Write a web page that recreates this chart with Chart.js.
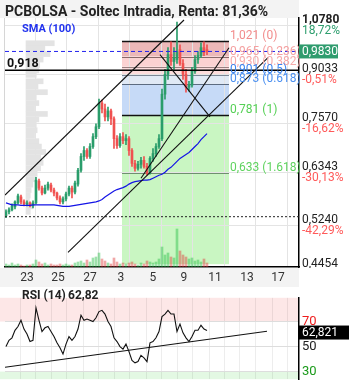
<!DOCTYPE html>
<html>
<head>
<meta charset="utf-8">
<script src="https://cdn.jsdelivr.net/npm/chart.js@4.4.1/dist/chart.umd.min.js"></script>
<style>
  html, body { margin: 0; padding: 0; background: #fff; }
  #wrap { position: relative; width: 353px; height: 390px; overflow: hidden; }
  #main { position: absolute; left: 0; top: 0; }
  #rsi { position: absolute; left: 0; top: 287px; }
</style>
</head>
<body>
<div id="wrap">
  <canvas id="main" width="353" height="287"></canvas>
  <canvas id="rsi" width="353" height="103"></canvas>
</div>
<script>
// intraday candles (one per slot, x = slot index)
const open = [.5419,.5497,.5536,.5596,.5677,.5801,.5698,.5657,.5677,.5616,
  .5677,.6143,.599,.5884,.599,.6055,.5947,.5884,.578,.5698,
  .5759,.5863,.599,.5905,.6077,.639,.6718,.6864,.6718,.6964,
  .7218,.7481,.8153,.798,.7754,.7923,.7699,.7166,.6989,.7218,
  .7115,.7166,.6864,.6552,.6436,.6529,.6623,.6482,.6321,.667,
  .679,.6964,.7166,.842,.9046,.9719,.9479,.9546,.9894,.9411,
  .9046,.8635,.8699,.9144,.9546,.9684,.9965,.9894];
const high = [.5536,.5576,.5657,.5718,.5863,.5842,.5739,.5718,.5698,.5718,
  .6231,.6187,.6033,.6055,.6121,.6099,.599,.5905,.5822,.5801,
  .5905,.6033,.6033,.6143,.6436,.679,.6964,.6914,.7039,.7296,
  .7562,.8271,.8242,.8124,.8037,.798,.7754,.7244,.7296,.7322,
  .727,.7218,.6914,.6623,.6599,.6694,.6718,.6552,.6718,.6914,
  .7039,.727,.8573,.921,.9965,1.0182,.9965,1.0938,1.0073,.9546,
  .921,.8823,.9276,.9684,.9825,1.0146,1.0182,1.0073];
const low = [.538,.5457,.5516,.5556,.5657,.5657,.5616,.5616,.5596,.5576,
  .5657,.5947,.5842,.5863,.5947,.5905,.5822,.5739,.5657,.5657,
  .5718,.5822,.578,.5863,.6033,.6344,.6623,.667,.667,.6914,
  .7166,.7428,.7866,.7644,.7644,.7535,.6914,.6914,.6939,.7039,
  .7014,.6742,.6482,.6367,.639,.6436,.6436,.6276,.6298,.6599,
  .6718,.6914,.7115,.8271,.8886,.9343,.921,.9411,.9343,.8886,
  .848,.8511,.8635,.9079,.9411,.9615,.9684,.9719];
const close = [.5497,.5536,.5616,.5698,.5822,.5698,.5657,.5677,.5616,.5677,
  .6165,.599,.5884,.599,.6077,.5947,.5884,.578,.5698,.5759,
  .5863,.599,.5905,.6099,.639,.6718,.6864,.6718,.6964,.7218,
  .7481,.8153,.798,.7754,.7923,.7699,.7166,.6989,.7218,.7115,
  .7166,.6864,.6552,.6436,.6529,.6623,.6482,.6321,.667,.679,
  .6964,.7166,.842,.9046,.9719,.9479,.9615,.9825,.9411,.9046,
  .8635,.8699,.9144,.9546,.9684,.9965,.979,.983];
const volume = [3,2,4,2,3,2,1,2,2,3, 7,5,3,4,2,3,2,2,3,2,
  3,2,2,4,5,6,4,7,5,9, 10,14,8,6,4,3,9,5,3,4,
  3,4,5,3,2,4,3,6,5,4, 5,8,20,12,14,10,9,38,16,12,
  10,8,9,6,7,5,8,4];
const sma100 = [.5677,.5657,.5636,.5636,.5636,.5626,.5626,.5626,.5626,.5636,
  .5636,.5636,.5636,.5636,.5636,.5636,.5636,.5626,.5616,.5606,
  .5606,.5606,.5616,.5626,.5636,.5647,.5657,.5667,.5677,.5688,
  .5698,.5718,.5749,.5801,.5842,.5884,.5926,.5958,.5979,.6001,
  .6033,.6077,.611,.6132,.6143,.6154,.6165,.6165,.6176,.6209,
  .6242,.6276,.6298,.6344,.6413,.6459,.6529,.6599,.667,.6718,
  .6766,.6815,.6889,.6964,.7039,.7141,.7218,.7296];
const rsi14 = [50,55,57,63,66,71,64,60,54,55, 81,71,62,65,66,62,58,53,49,44,
  52,58,55,58,64,75,71,72,71,70, 73,78,79,76,70,66,57,54,50,48,
  52,46,39,37,38,43,41,38,53,54, 57,62,74,76,79,76,76,62,68,61,
  57,54,58,63,63,67,64,62.821];

// volume profile (price row, relative size)
const profPrice = [1.0219,1.0019,.9825,.9632,.9444,.9259,.9111,.8902,.873,.8557,
  .839,.8226,.8066,.7908,.7754,.7602,.7455,.7309,.7166,.7026,
  .6889,.6754,.6623,.6493,.6367,.6242,.6121,.6001,.5884,.577,.5657,.5546];
const profSize = [33,22,28,20,16,15,12,20,14,25, 12,15,10,25,15,12,13,10,15,18,
  23,17,20,17,13,10,8,6,5,4,8,5];

// x axis
const xMin = -0.33, xMax = 97.67;
const dayTicks = [10, 20.33, 31, 41.33, 52, 62.33, 72.67, 83.33, 93.67];
const dayLabels = ['23', '25', '27', '3', '5', '9', '11', '13', '17'];
const halfDayTicks = [4.67, 10, 15.17, 20.33, 25.67, 31, 36.33, 41.33, 46.67, 52,
  57.33, 62.33, 67.67, 72.67, 78, 83.33, 88.67, 93.67];

// price axis
const yMin = 0.4546, yMax = 1.1097;
const priceTicks = [1.078, 0.9033, 0.757, 0.6343, 0.524, 0.4454];
const priceTickPct = ['18,72%', '-0,51%', '-16,62%', '-30,13%', '-42,29%', '-50,95%'];

// fibonacci retracement
const fibLevels = [1.021, 0.965, 0.930, 0.901, 0.873, 0.781, 0.633];
const fibRatios = ['0', '0.236', '0.382', '0.5', '0.618', '1', '1.618'];
const fibFrom = 38.67, fibTo = 74.33;

// drawn lines
const trendA = [{x: -0.33, y: .5842}, {x: 59.33, y: 1.1017}];
const trendB = [{x: 20.67, y: .4746}, {x: 87.33, y: .9615}];
const trendC = [{x: 45, y: .6209}, {x: 74.33, y: .9965}];
const trendFall = [{x: 51.33, y: .9719}, {x: 68, y: .7754}];
const lvl918 = 0.918, lastPrice = 0.983, dotLevel = 0.540;

const rsiTicks = [30, 50, 70];
const rsiTrend = [{x: -0.33, y: 33.4}, {x: 87, y: 62.2}];

const upColor = '#2a9d6b', downColor = '#f0504f';
Chart.defaults.font.family = 'Roboto, "Open Sans", sans-serif';

const fmt = (v, d) => v.toFixed(d).replace('.', ',');
const idx = close.map((_, i) => i);
const hline = v => [{x: xMin, y: v}, {x: xMax, y: v}];
const blackLine = d => ({type: 'line', data: d, borderColor: '#111', borderWidth: 1.1, pointRadius: 0, order: 1});

const fibZone = ['#ecb8b8', '#fbd2d2', '#fcdcdc', '#e0e9f5', '#c6daf7', '#c9f6c2'];
const fibLine = ['#111', '#8a6a6a', '#9a8080', '#7d8796', '#5c6b80', '#111', '#6f8f6f'];
const fibText = ['#f28c8c', '#f5a0a0', '#f6aaaa', '#3a84f0', '#4a8ff0', '#55d055', '#5fd35f'];

const mainDecor = {
  id: 'mainDecor',
  beforeDraw(chart) {
    const {ctx, chartArea: a, scales: {x, y}} = chart;
    ctx.save();
    ctx.fillStyle = '#f3f3f3';
    ctx.fillRect(0, 0, a.right, a.top);
    ctx.fillRect(0, a.bottom + 1, a.right, chart.height - a.bottom - 1);
    const x0 = x.getPixelForValue(fibFrom), x1 = x.getPixelForValue(fibTo);
    const edges = fibLevels.slice(0, 6).concat([yMin]);
    for (let i = 0; i < fibZone.length; i++) {
      const t = y.getPixelForValue(edges[i]), b = y.getPixelForValue(edges[i + 1]);
      ctx.fillStyle = fibZone[i];
      ctx.fillRect(x0, t, x1 - x0, b - t);
    }
    ctx.strokeStyle = '#d6d6d6';
    ctx.beginPath(); ctx.moveTo(a.left - 0.5, a.top); ctx.lineTo(a.left - 0.5, a.bottom); ctx.stroke();
    ctx.restore();
  },
  beforeDatasetsDraw(chart) {
    const {ctx, scales: {x, y}} = chart;
    const x0 = x.getPixelForValue(fibFrom), x1 = x.getPixelForValue(fibTo);
    ctx.save();
    fibLevels.forEach((v, i) => {
      const py = Math.round(y.getPixelForValue(v)) + 0.5;
      ctx.strokeStyle = fibLine[i];
      ctx.lineWidth = (i === 0 || i === 5) ? 1.3 : 1;
      ctx.beginPath(); ctx.moveTo(x0, py); ctx.lineTo(x1, py); ctx.stroke();
    });
    ctx.restore();
  },
  afterDraw(chart) {
    const {ctx, chartArea: a, scales: {x, y}} = chart;
    ctx.save();
    // fib labels
    ctx.font = '12px Roboto';
    ctx.textAlign = 'left';
    ctx.textBaseline = 'alphabetic';
    const lx = x.getPixelForValue(fibTo) + 1;
    fibLevels.forEach((v, i) => {
      ctx.fillStyle = fibText[i];
      ctx.fillText(fmt(v, 3) + ' (' + fibRatios[i] + ')', lx, y.getPixelForValue(v) - 2);
    });
    // price axis labels
    ctx.save();
    ctx.beginPath(); ctx.rect(a.right, 0, chart.width - a.right, a.bottom + 1); ctx.clip();
    ctx.textBaseline = 'middle';
    priceTicks.forEach((v, i) => {
      const py = y.getPixelForValue(v);
      ctx.fillStyle = '#222';
      ctx.font = i === 0 ? 'bold 12px Roboto' : '12px Roboto';
      ctx.fillText(fmt(v, 4), a.right + 3, py - 5.5);
      ctx.font = '12px Roboto';
      ctx.fillStyle = priceTickPct[i].startsWith('-') ? '#ff5a5a' : '#2e9e6e';
      ctx.fillText(priceTickPct[i], a.right + 3, py + 5.5);
    });
    ctx.restore();
    // last price box
    const lp = y.getPixelForValue(lastPrice);
    ctx.fillStyle = '#2f9c6e';
    ctx.fillRect(a.right, lp - 7, 39, 14);
    ctx.fillStyle = '#fff';
    ctx.font = '12px Roboto';
    ctx.textBaseline = 'middle';
    ctx.fillText(fmt(lastPrice, 4), a.right + 3, lp + 0.5);
    // title and labels
    ctx.fillStyle = '#222';
    ctx.font = 'bold 14px Roboto';
    ctx.textBaseline = 'alphabetic';
    ctx.fillText('PCBOLSA - Soltec Intradia, Renta: 81,36%', 5, 16);
    ctx.fillStyle = '#2233ee';
    ctx.font = 'bold 11px Roboto';
    ctx.fillText('SMA (100)', 22, 31.5);
    ctx.fillStyle = '#111';
    ctx.font = 'bold 12.5px Roboto';
    ctx.fillText(fmt(lvl918, 3), 7, y.getPixelForValue(lvl918) - 3);
    ctx.restore();
  }
};

new Chart(document.getElementById('main'), {
  type: 'bar',
  data: {
    datasets: [
      blackLine(trendA),
      blackLine(trendB),
      blackLine(trendC),
      blackLine(trendFall),
      {type: 'line', data: hline(lvl918), borderColor: '#000', borderWidth: 1.4, pointRadius: 0, order: 2},
      {type: 'line', data: hline(lastPrice), borderColor: '#2020ee', borderWidth: 1, borderDash: [4, 3], pointRadius: 0, order: 2},
      {type: 'line', data: hline(dotLevel), borderColor: '#222', borderWidth: 1, borderDash: [2, 2], pointRadius: 0, order: 2},
      {type: 'line', data: idx.map(i => ({x: i, y: sma100[i]})), borderColor: '#1414e6', borderWidth: 1.2, pointRadius: 0, tension: 0, order: 3},
      {type: 'bar', data: idx.map(i => ({x: i, y: [open[i], close[i]]})),
        backgroundColor: idx.map(i => close[i] >= open[i] ? upColor : downColor),
        grouped: false, maxBarThickness: 2, barPercentage: 1, categoryPercentage: 1, order: 4},
      {type: 'bar', data: idx.map(i => ({x: i, y: [low[i], high[i]]})),
        backgroundColor: idx.map(i => close[i] >= open[i] ? upColor : downColor),
        grouped: false, maxBarThickness: 1, barPercentage: 1, categoryPercentage: 1, order: 5},
      {type: 'bar', yAxisID: 'yv', data: idx.map(i => ({x: i, y: volume[i]})),
        backgroundColor: idx.map(i => close[i] >= open[i] ? 'rgba(40,190,70,0.45)' : 'rgba(225,60,60,0.45)'),
        grouped: false, maxBarThickness: 2, barPercentage: 1, categoryPercentage: 1, order: 6},
      {type: 'bar', indexAxis: 'y', xAxisID: 'xp', yAxisID: 'y',
        data: profPrice.map((p, i) => ({x: profSize[i], y: p})),
        backgroundColor: '#e3e3e3', barThickness: 5, order: 7}
    ]
  },
  options: {
    responsive: false, animation: false, events: [],
    layout: {padding: {left: 5, top: 18, right: 0, bottom: 0}},
    plugins: {legend: {display: false}, tooltip: {enabled: false}},
    scales: {
      x: {
        type: 'linear', min: xMin, max: xMax, offset: false,
        afterBuildTicks: s => { s.ticks = dayTicks.map(v => ({value: v})); },
        afterFit: s => { s.height = 20; },
        ticks: {callback: (v, i) => dayLabels[i], autoSkip: false, maxRotation: 0, labelOffset: -9,
          padding: 4, color: '#333', font: {size: 12}},
        grid: {color: '#e4e4e4', drawTicks: false, offset: false},
        border: {color: '#000', width: 1.5}
      },
      y: {
        type: 'logarithmic', position: 'right', min: yMin, max: yMax, offset: false, beginAtZero: false,
        afterBuildTicks: s => { s.ticks = priceTicks.filter(v => v >= yMin && v <= yMax).map(v => ({value: v})); },
        afterFit: s => { s.width = 54; },
        ticks: {display: false},
        grid: {color: '#e4e4e4', drawTicks: false, offset: false},
        border: {color: '#000', width: 1.5}
      },
      yv: {type: 'linear', display: false, min: 0, max: 249},
      xp: {type: 'linear', display: false, min: 0, max: 294}
    }
  },
  plugins: [mainDecor]
});

const rsiDecor = {
  id: 'rsiDecor',
  beforeDraw(chart) {
    const {ctx, chartArea: a, scales: {y}} = chart;
    ctx.save();
    const y70 = y.getPixelForValue(70), y30 = y.getPixelForValue(30);
    ctx.fillStyle = '#fde7e7';
    ctx.fillRect(0, a.top, a.right, y70 - a.top);
    ctx.fillStyle = '#e3f8e3';
    ctx.fillRect(0, y30, a.right, a.bottom - y30);
    ctx.restore();
  },
  afterDraw(chart) {
    const {ctx, chartArea: a, scales: {y}} = chart;
    const last = rsi14[rsi14.length - 1];
    ctx.save();
    ctx.fillStyle = '#222';
    ctx.font = 'bold 12px Roboto';
    ctx.textBaseline = 'alphabetic';
    ctx.fillText('RSI (14)', 22, 12);
    ctx.fillText(fmt(last, 2), 68, 12);
    const py = y.getPixelForValue(last);
    ctx.fillStyle = '#000';
    ctx.fillRect(a.right, py - 5, 50, 14);
    ctx.fillStyle = '#fff';
    ctx.font = '12px Roboto';
    ctx.textBaseline = 'middle';
    ctx.fillText(fmt(last, 3), a.right + 3, py + 2);
    ctx.restore();
  }
};

new Chart(document.getElementById('rsi'), {
  type: 'line',
  data: {
    datasets: [
      {data: idx.map(i => ({x: i, y: rsi14[i]})), borderColor: '#111', borderWidth: 1.1, pointRadius: 0, tension: 0},
      {data: rsiTrend, borderColor: '#111', borderWidth: 1.1, pointRadius: 0}
    ]
  },
  options: {
    responsive: false, animation: false, events: [],
    layout: {padding: {left: 5, top: 0, right: 0, bottom: 0}},
    plugins: {legend: {display: false}, tooltip: {enabled: false}},
    scales: {
      x: {
        type: 'linear', min: xMin, max: xMax,
        afterBuildTicks: s => { s.ticks = halfDayTicks.map(v => ({value: v})); },
        afterFit: s => { s.height = 0; },
        ticks: {display: false},
        grid: {color: 'rgba(0,0,0,0.07)', drawTicks: false},
        border: {display: false}
      },
      y: {
        position: 'right', min: 23.9, max: 89,
        afterBuildTicks: s => { s.ticks = rsiTicks.map(v => ({value: v})); },
        afterFit: s => { s.width = 54; },
        ticks: {padding: 3, font: {size: 13},
          color: c => c.tick.value === 70 ? '#ee1c1c' : (c.tick.value === 30 ? '#1a9a1a' : '#222')},
        grid: {color: '#dddddd', drawTicks: false},
        border: {color: '#000', width: 1.5}
      }
    }
  },
  plugins: [rsiDecor]
});
</script>
</body>
</html>
